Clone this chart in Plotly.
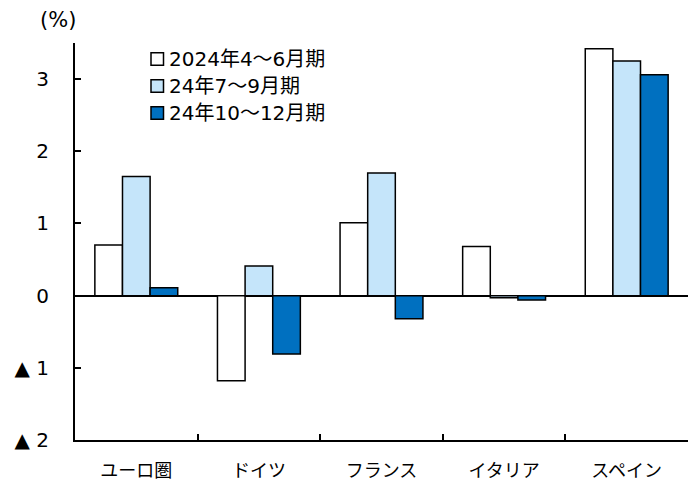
import plotly.graph_objects as go

# Real GDP growth by country, %
categories = ["ユーロ圏", "ドイツ", "フランス", "イタリア", "スペイン"]
series_names = ["2024年4～6月期", "24年7～9月期", "24年10～12月期"]
q2_2024 = [0.70, -1.18, 1.01, 0.68, 3.42]
q3_2024 = [1.65, 0.41, 1.70, -0.03, 3.25]
q4_2024 = [0.11, -0.81, -0.32, -0.06, 3.06]
series_values = [q2_2024, q3_2024, q4_2024]
series_colors = ["#FFFFFF", "#C5E5FA", "#0070C0"]

y_tick_vals = [3, 2, 1, 0, -1, -2]
y_tick_text = ["3", "2", "1", "0", "▲ 1", "▲ 2"]

FONT = "DejaVu Sans, Noto Sans CJK JP"
CJK_FONT = "Noto Sans CJK JP"

fig = go.Figure()
for name, vals, color in zip(series_names, series_values, series_colors):
    fig.add_trace(go.Bar(
        x=categories, y=vals, name=name,
        marker=dict(color=color, line=dict(color="#000000", width=1.5)),
        showlegend=False,
    ))

# plot area in pixels
W, H = 688, 483
L, R, T, B = 75, 0, 43, 43
pw, ph = W - L - R, H - T - B


def px_x(x):
    return (x - L) / pw


def px_y(y):
    return (H - B - y) / ph


# legend drawn as keys + labels
legend_rows = [59, 86, 113]
for name, color, cy in zip(series_names, series_colors, legend_rows):
    fig.add_shape(type="rect", xref="paper", yref="paper",
                  x0=px_x(151), x1=px_x(163.5), y0=px_y(cy + 6.25), y1=px_y(cy - 6.25),
                  fillcolor=color, line=dict(color="#000000", width=1.5), layer="above")
    fig.add_annotation(text=name, xref="paper", yref="paper",
                       x=px_x(167), y=px_y(cy), xanchor="left", yanchor="middle",
                       showarrow=False, font=dict(size=20, color="#000000", family=FONT))

fig.add_annotation(text="(%)", xref="paper", yref="paper",
                   x=px_x(58), y=px_y(20), xanchor="center", yanchor="middle",
                   showarrow=False, font=dict(size=21, color="#000000", family=FONT))

fig.update_layout(
    width=W, height=H,
    margin=dict(l=L, r=R, t=T, b=B),
    paper_bgcolor="white", plot_bgcolor="white",
    barmode="group", bargap=0.324, bargroupgap=0,
    font=dict(family=FONT, color="#000000"),
    xaxis=dict(
        showline=True, linecolor="#000000", linewidth=2,
        ticks="inside", ticklen=6, tickwidth=2, tickcolor="#000000",
        tickson="boundaries", showgrid=False,
        tickfont=dict(size=18, family=CJK_FONT, color="#000000"),
        ticklabelstandoff=13,
    ),
    yaxis=dict(
        range=[-2, 3.5], tickvals=y_tick_vals, ticktext=y_tick_text,
        showline=True, linecolor="#000000", linewidth=2,
        ticks="inside", ticklen=6, tickwidth=2, tickcolor="#000000",
        showgrid=False, zeroline=True, zerolinecolor="#000000", zerolinewidth=1.5,
        tickfont=dict(size=20, family=FONT, color="#000000"),
        ticklabelstandoff=20,
    ),
)

fig.write_html("out.html")
